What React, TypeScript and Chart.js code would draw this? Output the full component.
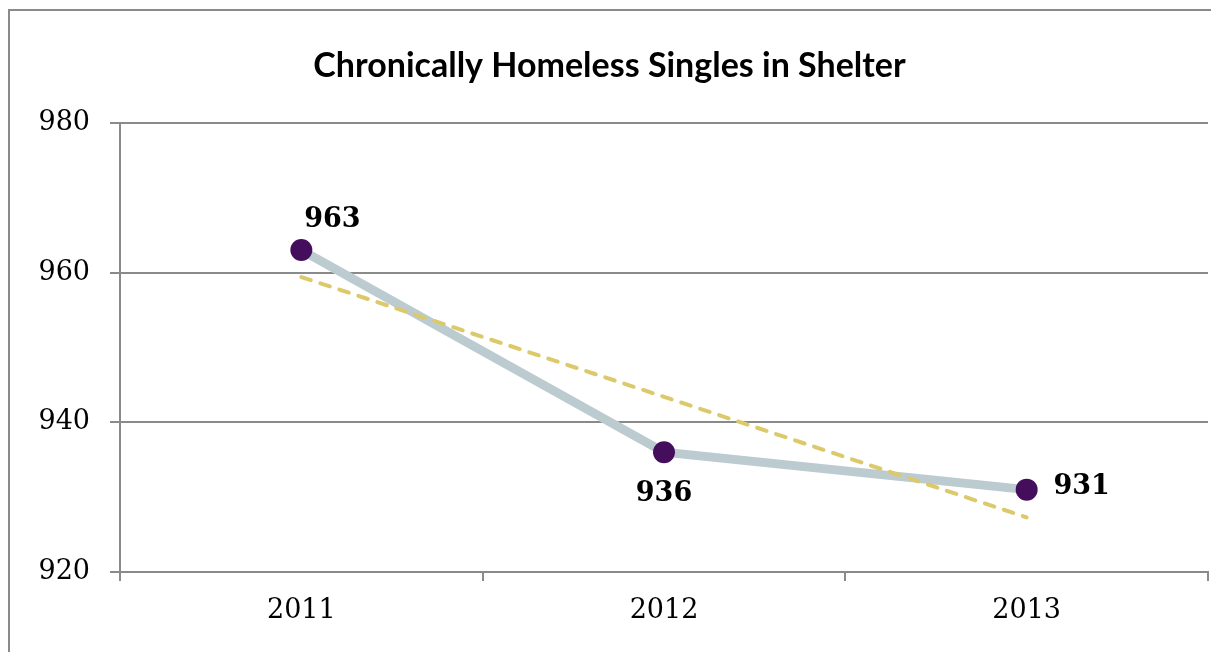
import React, { useEffect, useRef } from "react";
import { Chart, registerables } from "chart.js";

Chart.register(...registerables);

const years = ["2011", "2012", "2013"];
const homelessCounts = [963, 936, 931];
const trendValues = [959.4, 943.4, 927.3];
const yTicks = [920, 940, 960, 980];
const titleText = "Chronically Homeless Singles in Shelter";

const labelOffsets = [
  { dx: 31, dy: -30 },
  { dx: 0, dy: 42 },
  { dx: 55, dy: -3 },
];

const dataLabelPlugin = {
  id: "dataLabels",
  afterDatasetsDraw(chart: any) {
    const meta = chart.getDatasetMeta(1);
    const ctx = chart.ctx;
    ctx.save();
    ctx.font = "bold 27px 'DejaVu Serif'";
    ctx.fillStyle = "#000";
    ctx.textAlign = "center";
    ctx.textBaseline = "middle";
    meta.data.forEach((pt: any, i: number) => {
      const o = labelOffsets[i];
      ctx.fillText(String(homelessCounts[i]), pt.x + o.dx, pt.y + o.dy);
    });
    ctx.restore();
  },
};

export default function App() {
  const ref = useRef<HTMLCanvasElement | null>(null);
  useEffect(() => {
    if (!ref.current) return;
    const chart = new Chart(ref.current, {
      type: "line",
      data: {
        labels: years,
        datasets: [
          {
            label: "Trend",
            data: trendValues,
            borderColor: "#dcc96c",
            borderWidth: 4,
            borderDash: [10, 10],
            borderCapStyle: "round",
            pointRadius: 0,
            fill: false,
            tension: 0,
            order: 0,
          },
          {
            label: "Chronically Homeless Singles",
            data: homelessCounts,
            borderColor: "#bccbd0",
            borderWidth: 9,
            pointRadius: 11,
            pointHoverRadius: 11,
            pointBackgroundColor: "#440e5c",
            pointBorderColor: "#440e5c",
            pointBorderWidth: 0,
            fill: false,
            tension: 0,
            order: 1,
          },
        ],
      },
      options: {
        animation: false,
        responsive: false,
        maintainAspectRatio: false,
        events: [],
        layout: { padding: { left: 0, right: 10, top: 0, bottom: 0 } },
        plugins: {
          legend: { display: false },
          tooltip: { enabled: false },
          title: {
            display: true,
            text: titleText,
            color: "#000",
            font: { family: "Lato", weight: "bold", size: 34, lineHeight: 1.2 },
            padding: { top: 35, bottom: 36 },
          },
        },
        scales: {
          x: {
            type: "category",
            offset: true,
            grid: {
              display: true,
              drawOnChartArea: false,
              drawTicks: true,
              tickLength: 9,
              offset: true,
              color: "#8a8a8a",
              lineWidth: 2,
            },
            border: { display: true, color: "#8a8a8a", width: 2 },
            ticks: {
              color: "#000",
              font: { family: "DejaVu Serif", size: 27 },
              padding: 14,
              maxRotation: 0,
            },
            afterFit(scale: any) {
              scale.height = 81;
            },
          },
          y: {
            min: 920,
            max: 980,
            afterBuildTicks(scale: any) {
              scale.ticks = yTicks.map((v) => ({ value: v }));
            },
            grid: {
              color: "#8a8a8a",
              lineWidth: 2,
              drawTicks: true,
              tickLength: 10,
            },
            border: { display: true, color: "#8a8a8a", width: 2 },
            ticks: {
              color: "#000",
              font: { family: "DejaVu Serif", size: 27 },
              padding: 20,
            },
            afterFit(scale: any) {
              scale.width = 110;
            },
          },
        },
      },
      plugins: [dataLabelPlugin],
    });
    return () => chart.destroy();
  }, []);

  return (
    <div
      style={{
        marginTop: 1,
        width: 1209,
        height: 643,
        borderTop: "2px solid #8a8a8a",
        borderLeft: "2px solid #8a8a8a",
        overflow: "hidden",
      }}
    >
      <canvas ref={ref} width={1209} height={642} style={{ display: "block" }} />
    </div>
  );
}
